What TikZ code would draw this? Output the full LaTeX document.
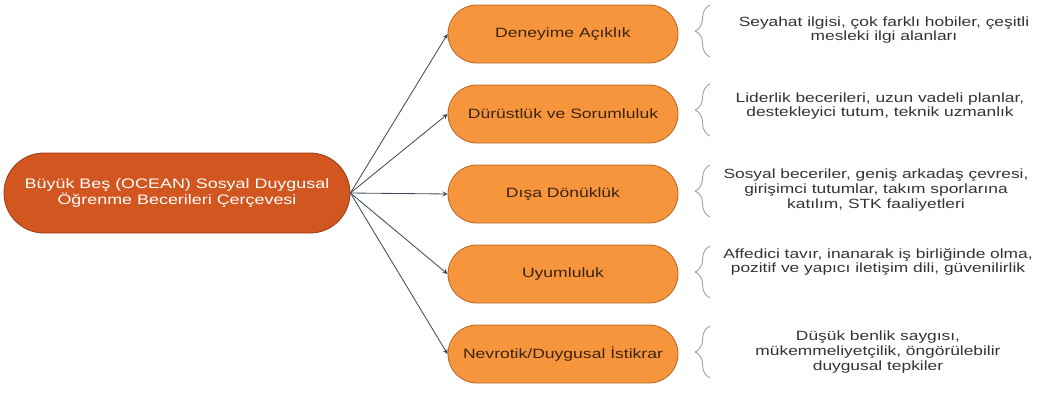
\documentclass[tikz,border=0pt]{standalone}
\usepackage{fontspec}
\setmainfont{Liberation Sans}[FakeStretch=1.3]
\usetikzlibrary{decorations.pathreplacing}
\usetikzlibrary{positioning}
\tikzset{>=stealth}
\definecolor{mainFill}{HTML}{D2561F}
\definecolor{mainLine}{HTML}{9C3C12}
\definecolor{traitFill}{HTML}{F7953D}
\definecolor{traitLine}{HTML}{B8682A}
\definecolor{traitText}{HTML}{3A2410}
\definecolor{noteText}{HTML}{333333}
\definecolor{braceColor}{HTML}{9A9A9A}
\definecolor{linkColor}{HTML}{3E4C5C}
\tikzset{
  mainbox/.style={draw=mainLine, fill=mainFill, text=white, line width=0.6pt,
    rounded corners=1cm, minimum width=8.65cm, minimum height=2cm, align=center,
    font=\fontsize{9.8}{11.5}\selectfont},
  traitbox/.style={draw=traitLine, fill=traitFill, text=traitText, line width=0.6pt,
    rounded corners=0.72cm, minimum width=5.75cm, minimum height=1.45cm,
    font=\fontsize{9.6}{11}\selectfont},
  notetext/.style={align=center, text=noteText, font=\fontsize{9.5}{10.4}\selectfont},
  notebrace/.style={draw=braceColor, line width=0.6pt, decorate,
    decoration={brace, amplitude=0.37cm}},
  link/.style={->, draw=linkColor, line width=0.6pt}
}

\begin{document}
\begin{tikzpicture}
	\useasboundingbox (0,0) rectangle (26.225,-9.8);
	% ana kavram
	\node [mainbox] (main) at (4.425,-4.825) {Büyük Beş (OCEAN) Sosyal Duygusal\\Öğrenme Becerileri Çerçevesi};
	
	% beş boyut
	\node [traitbox] (open) at (14.075,-0.85) {Deneyime Açıklık};
	\node [traitbox] (consc) at (14.075,-2.85) {Dürüstlük ve Sorumluluk};
	\node [traitbox] (extra) at (14.075,-4.85) {Dışa Dönüklük};
	\node [traitbox] (agree) at (14.075,-6.85) {Uyumluluk};
	\node [traitbox] (neuro) at (14.075,-8.85) {Nevrotik/Duygusal İstikrar};
	
	\draw [link] (main.east) -- (open.west);
	\draw [link] (main.east) -- (consc.west);
	\draw [link] (main.east) -- (extra.west);
	\draw [link] (main.east) -- (agree.west);
	\draw [link] (main.east) -- (neuro.west);
	
	% açıklamalar
	\draw [notebrace] (17.75,-1.425) -- (17.75,-0.125);
	\draw [notebrace] (17.75,-3.4) -- (17.75,-2.1);
	\draw [notebrace] (17.75,-5.425) -- (17.75,-4.125);
	\draw [notebrace] (17.75,-7.45) -- (17.75,-6.15);
	\draw [notebrace] (17.75,-9.45) -- (17.75,-8.15);
	
	\node [notetext] (openNote) at (22.1,-0.75) {Seyahat ilgisi, çok farklı hobiler, çeşitli\\mesleki ilgi alanları};
	\node [notetext] (conscNote) at (22.0,-2.65) {Liderlik becerileri, uzun vadeli planlar,\\destekleyici tutum, teknik uzmanlık};
	\node [notetext] (extraNote) at (21.9,-4.75) {Sosyal beceriler, geniş arkadaş çevresi,\\girişimci tutumlar, takım sporlarına\\katılım, STK faaliyetleri};
	\node [notetext] (agreeNote) at (21.95,-6.55) {Affedici tavır, inanarak iş birliğinde olma,\\pozitif ve yapıcı iletişim dili, güvenilirlik};
	\node [notetext] (neuroNote) at (21.95,-8.8) {Düşük benlik saygısı,\\mükemmeliyetçilik, öngörülebilir\\duygusal tepkiler};
\end{tikzpicture}
\end{document}
